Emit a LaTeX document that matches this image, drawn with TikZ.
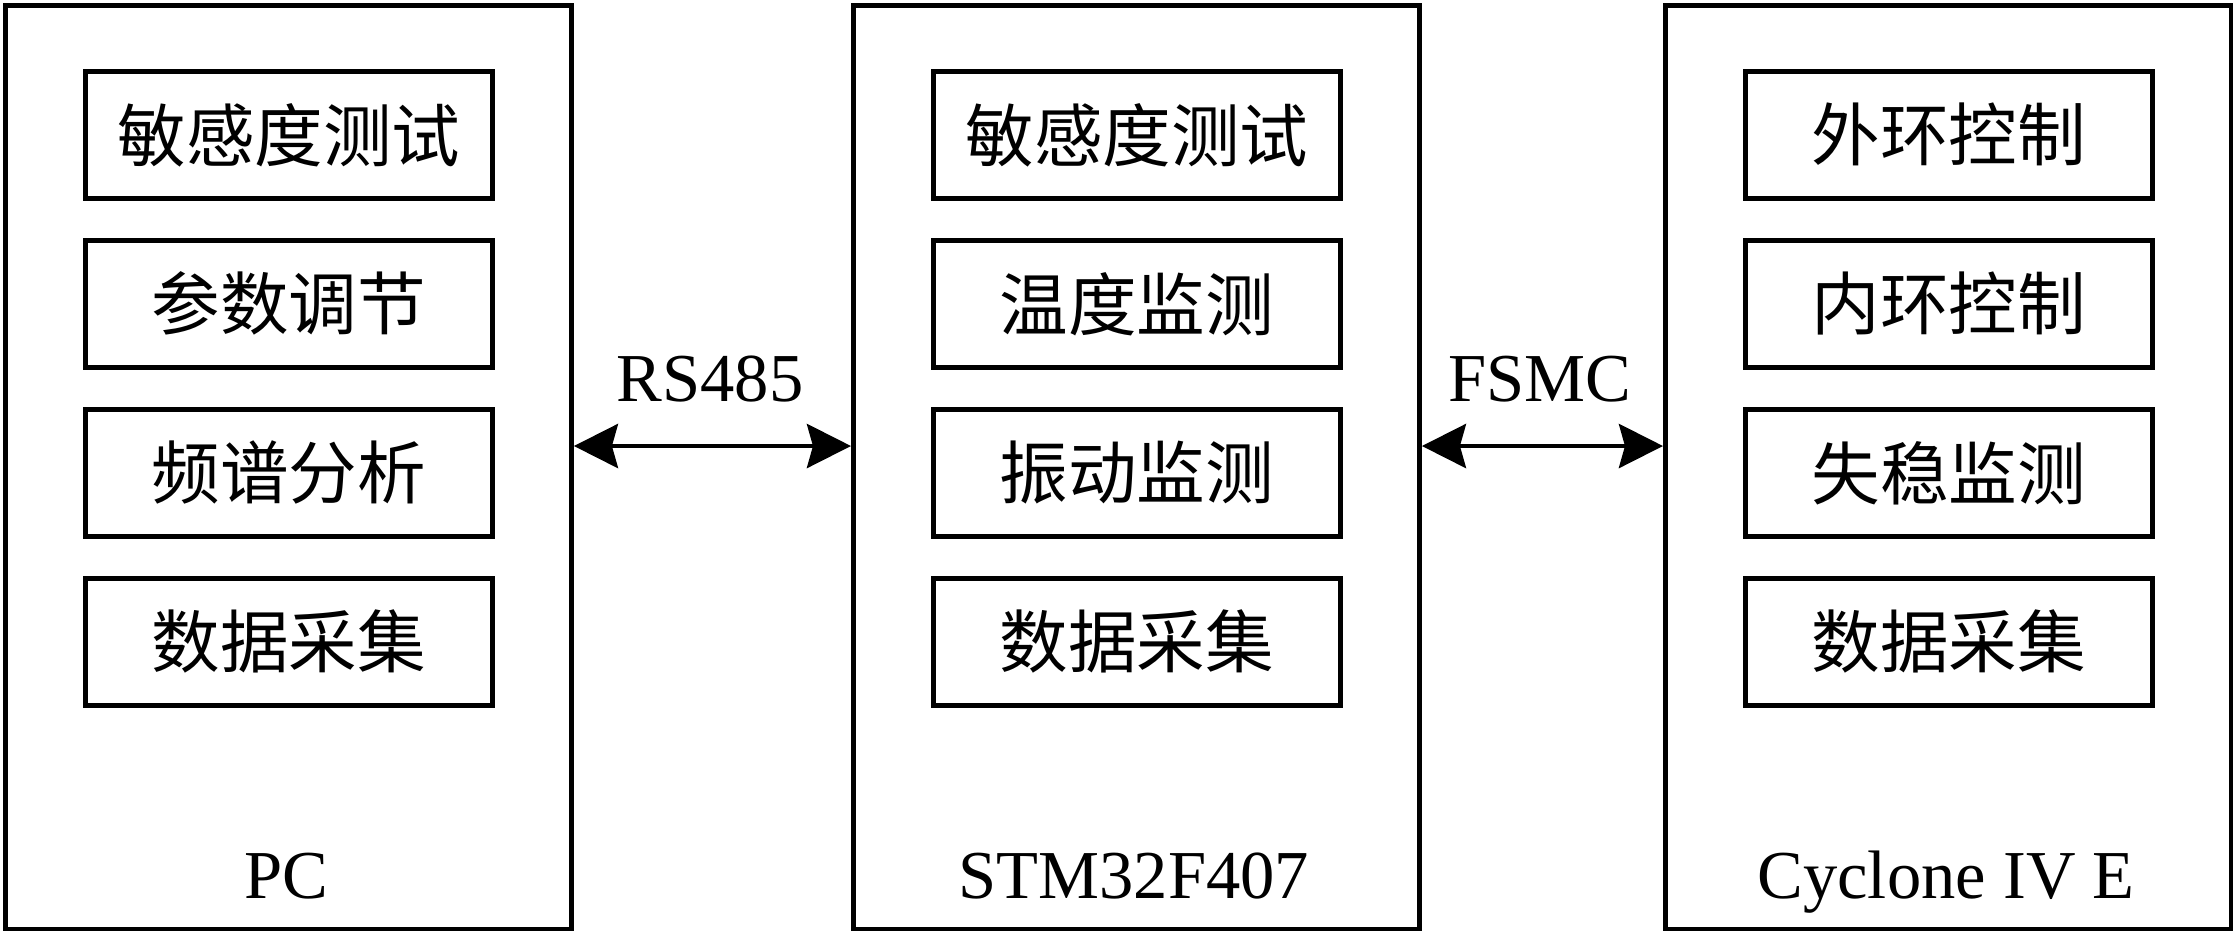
\documentclass[tikz,border=0pt]{standalone}
\usepackage{fontspec}
\setmainfont{Liberation Serif}
\newfontfamily\cjk{Noto Sans CJK SC}
\usetikzlibrary{arrows.meta}
\begin{document}
\begin{tikzpicture}[x=0.01cm,y=-0.01cm,
  outerbox/.style={draw,line width=1.3pt,anchor=north west,minimum width=5.66cm,minimum height=9.23cm,inner sep=0pt},
  innerbox/.style={draw,line width=1.3pt,anchor=north west,minimum width=4.07cm,minimum height=1.27cm,inner sep=0pt,font=\cjk\fontsize{19.5}{23}\selectfont},
  lbl/.style={font=\fontsize{19.5}{23}\selectfont,inner sep=0pt},
  arr/.style={line width=1.3pt,{Stealth[length=0.44cm,width=0.44cm,inset=0.06cm]}-{Stealth[length=0.44cm,width=0.44cm,inset=0.06cm]}}]
\useasboundingbox (0,0) rectangle (2233,950);
% outer boxes
\node[outerbox] (pc) at (3,3) {};
\node[outerbox] (stm) at (851,3) {};
\node[outerbox] (cyc) at (1663,3) {};
% PC
\node[innerbox] (p1) at (83,69) {敏感度测试};
\node[innerbox] (p2) at (83,238) {参数调节};
\node[innerbox] (p3) at (83,407) {频谱分析};
\node[innerbox] (p4) at (83,576) {数据采集};
% STM
\node[innerbox] (s1) at (931,69) {敏感度测试};
\node[innerbox] (s2) at (931,238) {温度监测};
\node[innerbox] (s3) at (931,407) {振动监测};
\node[innerbox] (s4) at (931,576) {数据采集};
% Cyclone
\node[innerbox] (c1) at (1743,69) {外环控制};
\node[innerbox] (c2) at (1743,238) {内环控制};
\node[innerbox] (c3) at (1743,407) {失稳监测};
\node[innerbox] (c4) at (1743,576) {数据采集};
% bottom labels
\node[lbl,anchor=base] (lpc) at (286,898) {PC};
\node[lbl,anchor=base] (lstm) at (1134,898) {STM32F407};
\node[lbl,anchor=base] (lcyc) at (1946,898) {Cyclone IV E};
% arrows
\coordinate (ay) at (0,446);
\draw[arr] (pc.east |- ay) -- (stm.west |- ay);
\draw[arr] (stm.east |- ay) -- (cyc.west |- ay);
\node[lbl,anchor=base] (rs) at (710,401) {RS485};
\node[lbl,anchor=base] (fs) at (1540,401) {FSMC};
\end{tikzpicture}
\end{document}
